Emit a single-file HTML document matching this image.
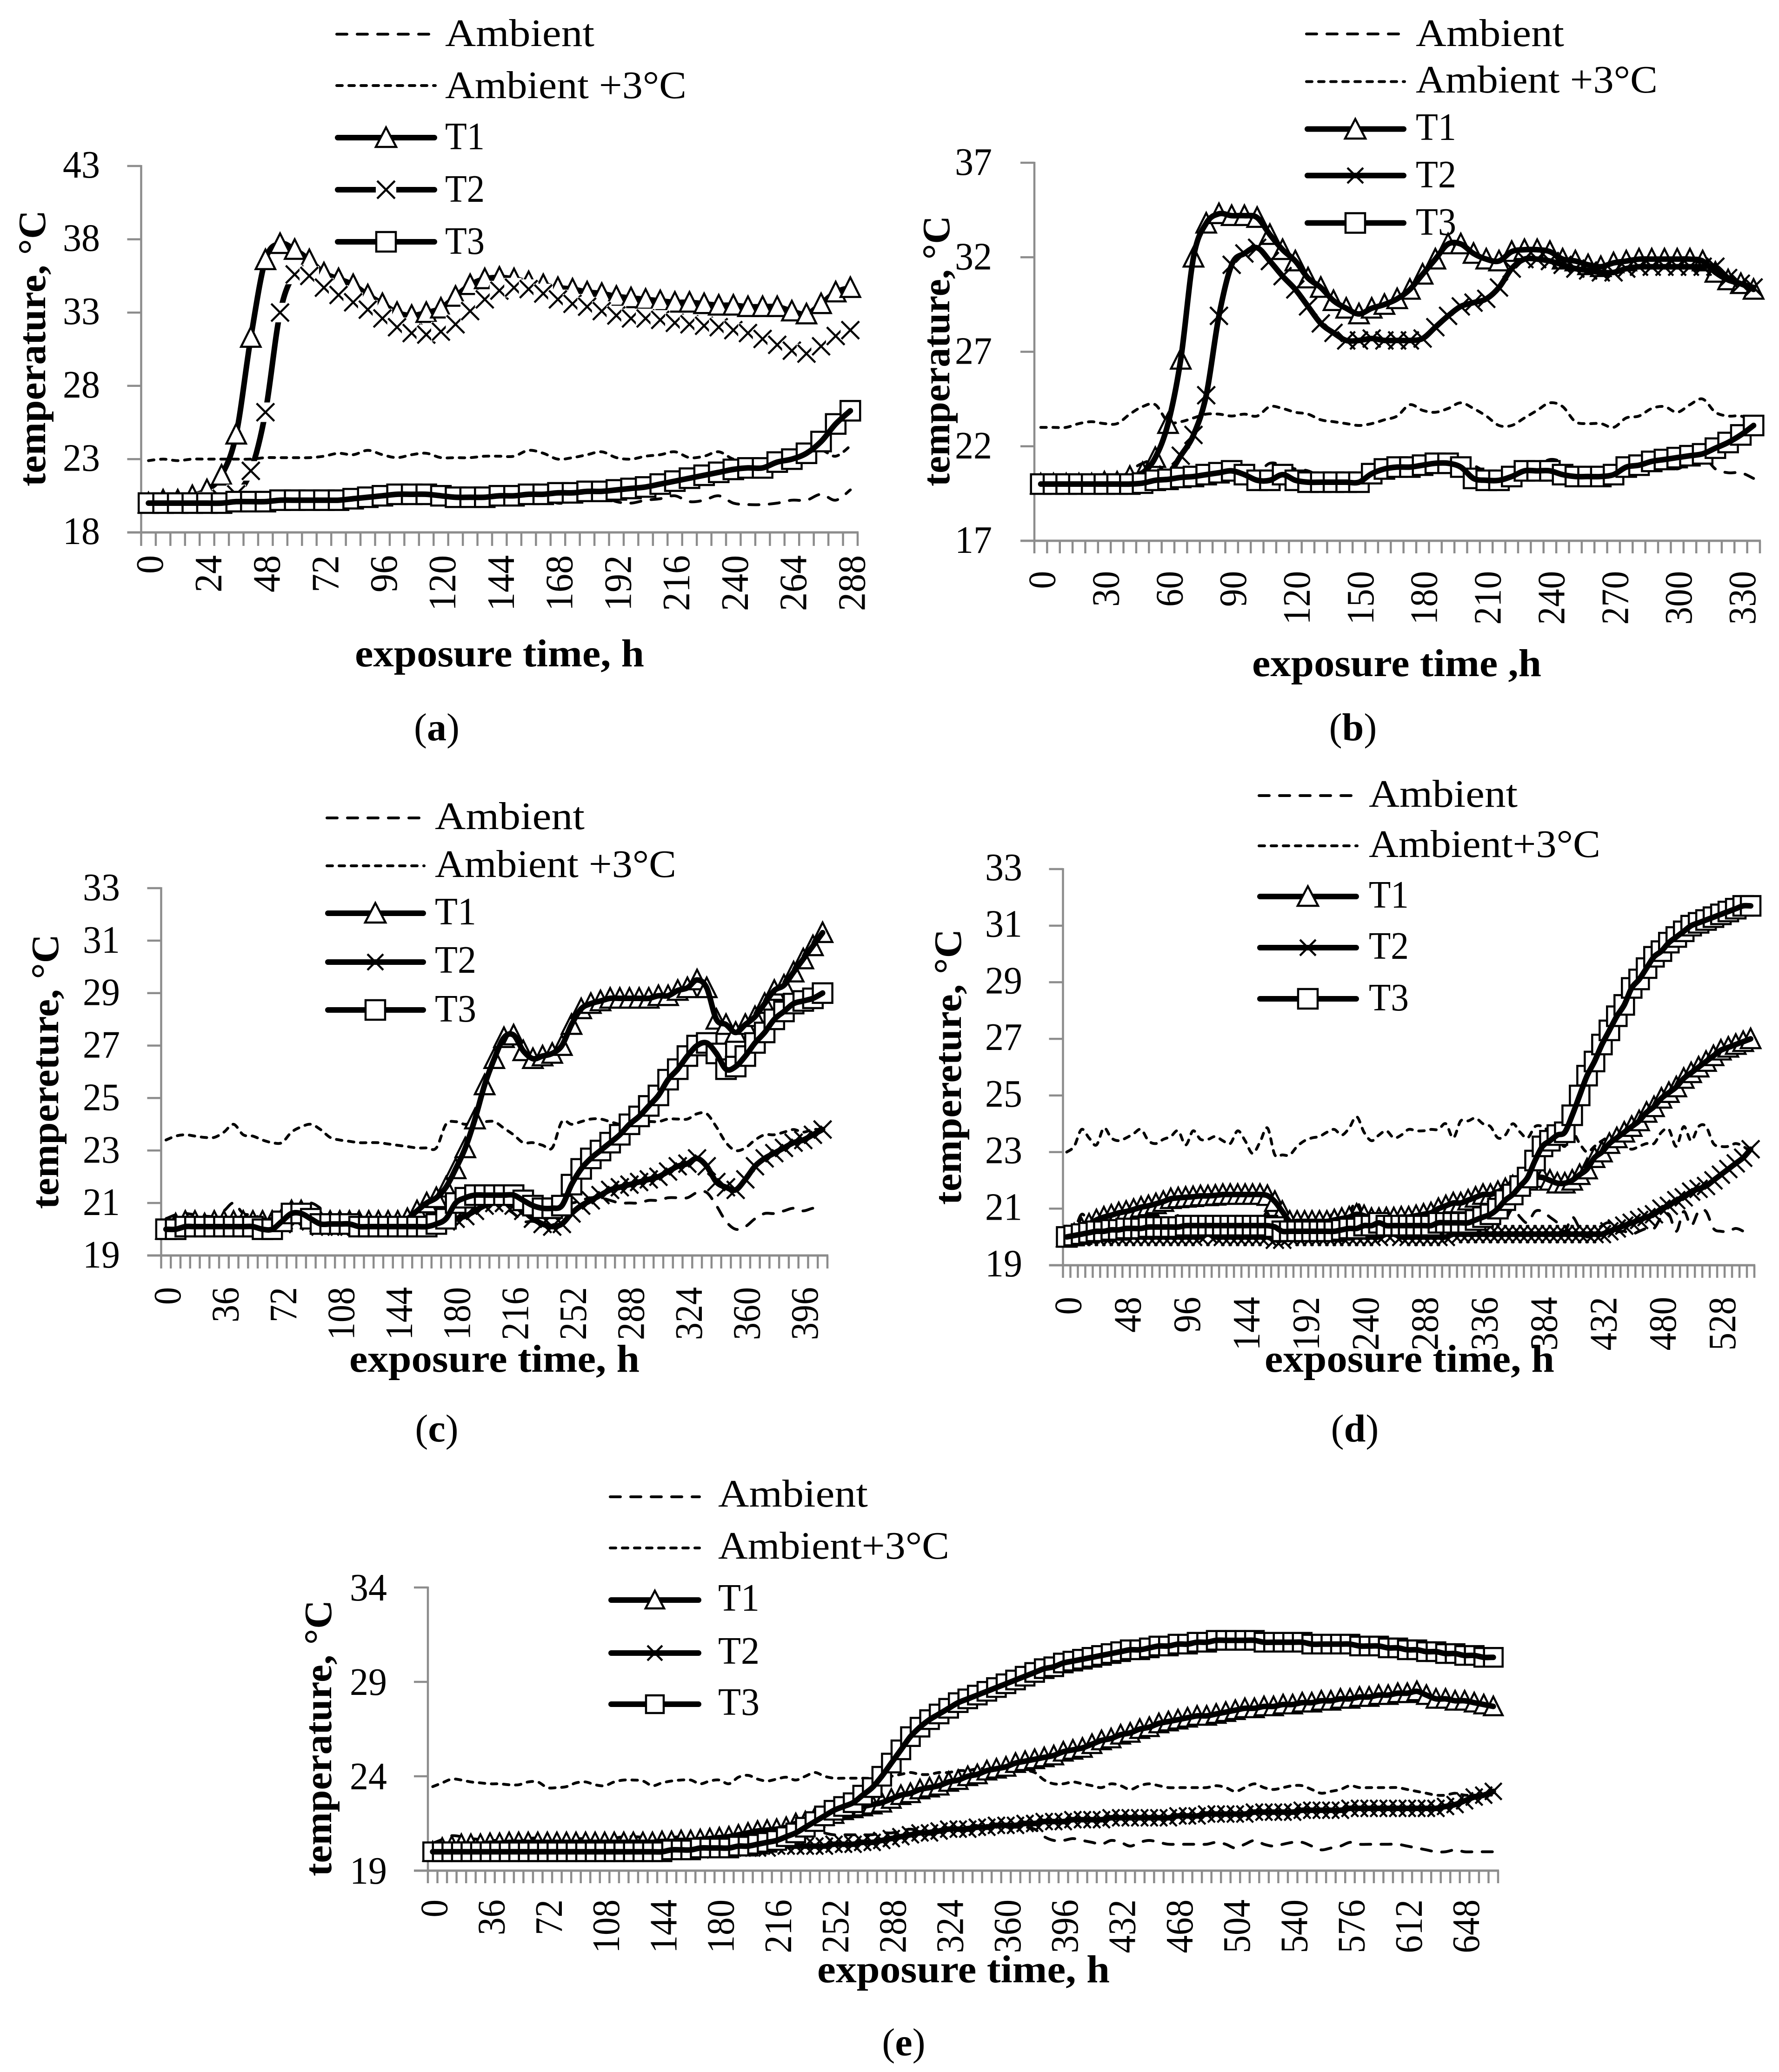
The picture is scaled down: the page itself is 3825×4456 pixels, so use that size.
<!DOCTYPE html>
<html lang="en"><head><meta charset="utf-8"><title>Temperature versus exposure time</title>
<style>
html,body{margin:0;padding:0;background:#fff}
svg{display:block}
text{font-family:"Liberation Serif",serif;fill:#000;font-size:84px}
.b{font-weight:bold}
.amb{stroke:#000;stroke-width:6;stroke-dasharray:22 22;stroke-linecap:round;fill:none}
.a3{stroke:#000;stroke-width:6;stroke-dasharray:12 14;stroke-linecap:round;fill:none}
.t{stroke:#000;stroke-width:12;stroke-linecap:round;fill:none}
.m{stroke:#000;stroke-width:4.5;fill:#fff}
.x{stroke:#000;stroke-width:4.5;fill:none}
</style></head><body>
<svg xmlns="http://www.w3.org/2000/svg" width="3825" height="4456" viewBox="0 0 3825 4456">
<rect width="3825" height="4456" fill="#fff"/>

<g id="panel-a"></g>
<g id="panel-b"></g>
<g id="panel-c"></g>
<g id="panel-d"></g>
<g id="panel-e"></g>

<!-- Panel a labels and legend -->
<g>
<line class="amb" x1="724" x2="936" y1="73.5" y2="73.5"/>
<text x="957" y="99" textLength="321" lengthAdjust="spacingAndGlyphs">Ambient</text>
<line class="a3" x1="724" x2="936" y1="184" y2="184"/>
<text x="957" y="211" textLength="519" lengthAdjust="spacingAndGlyphs">Ambient +3°C</text>
<line class="t" x1="726" x2="934" y1="296" y2="296"/>
<polygon class="m" points="830,274 852,316 808,316"/>
<text x="957" y="321" textLength="85" lengthAdjust="spacingAndGlyphs">T1</text>
<line class="t" x1="726" x2="934" y1="408" y2="408"/>
<rect x="808" y="386" width="44" height="44" fill="#fff"/>
<path class="x" d="M811 389L849 427M849 389L811 427"/>
<text x="957" y="434" textLength="85" lengthAdjust="spacingAndGlyphs">T2</text>
<line class="t" x1="726" x2="934" y1="520" y2="520"/>
<rect class="m" x="809" y="499" width="42" height="42"/>
<text x="957" y="546" textLength="85" lengthAdjust="spacingAndGlyphs">T3</text>
</g>
<text class="b" x="763" y="1433" textLength="622" lengthAdjust="spacingAndGlyphs">exposure time, h</text>
<text class="b" x="97" y="1046" transform="rotate(-90 97 1046)" textLength="594" lengthAdjust="spacingAndGlyphs">temperature, °C</text>
<text x="939" y="1592" text-anchor="middle">(<tspan class="b">a</tspan>)</text>

<!-- Panel b labels and legend -->
<g>
<line class="amb" x1="2809" x2="3020" y1="73" y2="73"/>
<text x="3044" y="99" textLength="319" lengthAdjust="spacingAndGlyphs">Ambient</text>
<line class="a3" x1="2809" x2="3020" y1="175.5" y2="175.5"/>
<text x="3044" y="199" textLength="520" lengthAdjust="spacingAndGlyphs">Ambient +3°C</text>
<line class="t" x1="2811" x2="3018" y1="277.5" y2="277.5"/>
<polygon class="m" points="2914,256 2936,298 2892,298"/>
<text x="3044" y="301" textLength="87" lengthAdjust="spacingAndGlyphs">T1</text>
<line class="t" x1="2811" x2="3018" y1="377.5" y2="377.5"/>
<path class="x" d="M2897 361L2931 394M2931 361L2897 394"/>
<text x="3044" y="403" textLength="87" lengthAdjust="spacingAndGlyphs">T2</text>
<line class="t" x1="2811" x2="3018" y1="479.5" y2="479.5"/>
<rect class="m" x="2893" y="458.5" width="42" height="42"/>
<text x="3044" y="505" textLength="87" lengthAdjust="spacingAndGlyphs">T3</text>
</g>
<text class="b" x="2692" y="1454" textLength="622" lengthAdjust="spacingAndGlyphs">exposure time ,h</text>
<text class="b" x="2041" y="1046" transform="rotate(-90 2041 1046)" textLength="582" lengthAdjust="spacingAndGlyphs">temperature, °C</text>
<text x="2909" y="1592" text-anchor="middle">(<tspan class="b">b</tspan>)</text>

<!-- Panel c labels and legend -->
<g>
<line class="amb" x1="703" x2="912" y1="1759" y2="1759"/>
<text x="935" y="1783" textLength="322" lengthAdjust="spacingAndGlyphs">Ambient</text>
<line class="a3" x1="703" x2="912" y1="1862" y2="1862"/>
<text x="935" y="1886" textLength="519" lengthAdjust="spacingAndGlyphs">Ambient +3°C</text>
<line class="t" x1="705" x2="910" y1="1964" y2="1964"/>
<polygon class="m" points="807,1942 829,1984 785,1984"/>
<text x="935" y="1988" textLength="89" lengthAdjust="spacingAndGlyphs">T1</text>
<line class="t" x1="705" x2="910" y1="2069" y2="2069"/>
<path class="x" d="M790 2052L824 2086M824 2052L790 2086"/>
<text x="935" y="2092" textLength="89" lengthAdjust="spacingAndGlyphs">T2</text>
<line class="t" x1="705" x2="910" y1="2172" y2="2172"/>
<rect class="m" x="786" y="2151" width="42" height="42"/>
<text x="935" y="2197" textLength="89" lengthAdjust="spacingAndGlyphs">T3</text>
</g>
<text class="b" x="751" y="2950" textLength="624" lengthAdjust="spacingAndGlyphs">exposure time, h</text>
<text class="b" x="125" y="2600" transform="rotate(-90 125 2600)" textLength="591" lengthAdjust="spacingAndGlyphs">tempereture, °C</text>
<text x="939" y="3100" text-anchor="middle">(<tspan class="b">c</tspan>)</text>

<!-- Panel d labels and legend -->
<g>
<line class="amb" x1="2707" x2="2918" y1="1711" y2="1711"/>
<text x="2943" y="1735" textLength="320" lengthAdjust="spacingAndGlyphs">Ambient</text>
<line class="a3" x1="2707" x2="2918" y1="1819" y2="1819"/>
<text x="2943" y="1843" textLength="498" lengthAdjust="spacingAndGlyphs">Ambient+3°C</text>
<line class="t" x1="2709" x2="2916" y1="1928" y2="1928"/>
<polygon class="m" points="2812,1906 2834,1948 2790,1948"/>
<text x="2943" y="1952" textLength="86" lengthAdjust="spacingAndGlyphs">T1</text>
<line class="t" x1="2709" x2="2916" y1="2038" y2="2038"/>
<path class="x" d="M2795 2021L2829 2055M2829 2021L2795 2055"/>
<text x="2943" y="2062" textLength="86" lengthAdjust="spacingAndGlyphs">T2</text>
<line class="t" x1="2709" x2="2916" y1="2148" y2="2148"/>
<rect class="m" x="2791" y="2127" width="42" height="42"/>
<text x="2943" y="2173" textLength="86" lengthAdjust="spacingAndGlyphs">T3</text>
</g>
<text class="b" x="2719" y="2950" textLength="623" lengthAdjust="spacingAndGlyphs">exposure time, h</text>
<text class="b" x="2066" y="2591" transform="rotate(-90 2066 2591)" textLength="593" lengthAdjust="spacingAndGlyphs">tempereture, °C</text>
<text x="2913" y="3100" text-anchor="middle">(<tspan class="b">d</tspan>)</text>

<!-- Panel e labels and legend -->
<g>
<line class="amb" x1="1312" x2="1504" y1="3219" y2="3219"/>
<text x="1544" y="3240" textLength="322" lengthAdjust="spacingAndGlyphs">Ambient</text>
<line class="a3" x1="1312" x2="1504" y1="3329" y2="3329"/>
<text x="1544" y="3352" textLength="497" lengthAdjust="spacingAndGlyphs">Ambient+3°C</text>
<line class="t" x1="1314" x2="1502" y1="3441" y2="3441"/>
<polygon class="m" points="1408,3421 1428,3459 1388,3459"/>
<text x="1544" y="3464" textLength="89" lengthAdjust="spacingAndGlyphs">T1</text>
<line class="t" x1="1314" x2="1502" y1="3555" y2="3555"/>
<path class="x" d="M1392 3539L1424 3571M1424 3539L1392 3571"/>
<text x="1544" y="3578" textLength="89" lengthAdjust="spacingAndGlyphs">T2</text>
<line class="t" x1="1314" x2="1502" y1="3665" y2="3665"/>
<rect class="m" x="1389" y="3646" width="38" height="38"/>
<text x="1544" y="3688" textLength="89" lengthAdjust="spacingAndGlyphs">T3</text>
</g>
<text class="b" x="1757" y="4263" textLength="629" lengthAdjust="spacingAndGlyphs">exposure time, h</text>
<text class="b" x="712" y="4035" transform="rotate(-90 712 4035)" textLength="594" lengthAdjust="spacingAndGlyphs">temperature, °C</text>
<text x="1943" y="4420" text-anchor="middle">(<tspan class="b">e</tspan>)</text>
</svg>

<script>
/* Panel (a) — 6 h per category */
const aYTicks=[18,23,28,33,38,43];
const aXTicks=[0,24,48,72,96,120,144,168,192,216,240,264,288];
const aAmbient=[19.9,20,19.9,20,20,20,20,20,20.1,20.1,
20.1,20.1,20.2,20.4,20.3,20.6,20.3,20.1,20.3,20.4,
20.1,20.1,20.1,20.2,20.2,20.2,20.6,20.4,20,20.1,
20.3,20.5,20.1,20,20.2,20.3,20.5,20.1,20.2,20.5,
20,19.9,19.9,20,20.2,20.2,20.6,20.2,20.9];
const aAmbient3=[22.9,23,22.9,23,23,23,23,23,23.1,23.1,
23.1,23.1,23.2,23.4,23.3,23.6,23.3,23.1,23.3,23.4,
23.1,23.1,23.1,23.2,23.2,23.2,23.6,23.4,23,23.1,
23.3,23.5,23.1,23,23.2,23.3,23.5,23.1,23.2,23.5,
23,22.9,22.9,23,23.2,23.2,23.6,23.2,23.9];
const aT1=[20,20.2,20.2,20.5,20.9,21.9,24.7,31.3,36.6,37.7,
37.3,36.6,35.7,35.3,34.9,34.2,33.6,33,32.8,33,
33.3,34.1,34.9,35.3,35.4,35.3,35.1,34.9,34.7,34.6,
34.4,34.3,34.1,34,33.9,33.8,33.7,33.7,33.6,33.5,
33.5,33.4,33.4,33.4,33.1,32.9,33.6,34.4,34.7];
const aT2=[20,20,20,20,20.1,20.3,20.6,22.2,26.2,33,
35.6,35.5,34.7,34.2,33.7,33.2,32.6,32,31.6,31.5,
31.7,32.2,33.1,33.9,34.5,34.7,34.6,34.3,33.9,33.6,
33.4,33.1,32.8,32.6,32.6,32.5,32.3,32.2,32.1,32,
31.8,31.6,31.2,30.8,30.4,30.2,30.7,31.4,31.8];
const aT3=[20,20,20,20,20,20,20.1,20.1,20.1,20.2,
20.2,20.2,20.2,20.2,20.3,20.4,20.5,20.6,20.6,20.6,
20.5,20.4,20.4,20.4,20.5,20.5,20.6,20.6,20.7,20.7,
20.8,20.8,20.9,21,21.1,21.3,21.5,21.7,21.9,22.1,
22.3,22.4,22.4,22.8,23,23.4,24.2,25.4,26.3];

/* Panel (b) */
const bYTicks=[17,22,27,32,37];
const bXTicks=[0,30,60,90,120,150,180,210,240,270,300,330];
const bAmbient=[20,20,20,20.2,20.3,20.2,20.2,20.7,21.1,21.2,
20.3,20.3,20.5,20.7,20.7,20.6,20.7,20.6,21.1,21,
20.8,20.7,20.4,20.3,20.2,20.1,20.2,20.4,20.6,21.2,
20.9,20.8,21,21.3,21,20.6,20.1,20.1,20.5,20.9,
21.3,21.1,20.3,20.2,20.2,20,20.5,20.6,21,21.1,
20.8,21.2,21.5,20.8,20.6,20.6,20.3];
const bAmbient3=[23,23,23,23.2,23.3,23.2,23.2,23.7,24.1,24.2,
23.3,23.3,23.5,23.7,23.7,23.6,23.7,23.6,24.1,24,
23.8,23.7,23.4,23.3,23.2,23.1,23.2,23.4,23.6,24.2,
23.9,23.8,24,24.3,24,23.6,23.1,23.1,23.5,23.9,
24.3,24.1,23.3,23.2,23.2,23,23.5,23.6,24,24.1,
23.8,24.2,24.5,23.8,23.6,23.6,23.3];
const bT1=[20,20,20,20,20,20.1,20.1,20.4,20.6,21.4,
23.2,26.6,32,33.8,34.3,34.2,34.2,34.1,33.2,32.4,
31.8,30.9,30.4,29.7,29.3,29,29.3,29.5,29.8,30.3,
31.1,31.9,32.7,32.7,32.2,31.9,31.8,32.3,32.4,32.4,
32.3,31.9,31.8,31.6,31.5,31.7,31.8,31.9,31.9,31.9,
31.9,31.9,31.8,31.2,30.8,30.6,30.3];
const bT2=[20,20,20,20,20,20,20,20,20,20.2,
20.5,21.5,22.6,24.7,28.9,31.6,32.2,32.5,31.8,31,
30.3,29.4,28.5,28,27.6,27.6,27.7,27.6,27.6,27.6,
27.7,28.3,28.9,29.4,29.6,29.8,30.4,31.4,31.9,31.9,
31.8,31.6,31.4,31.3,31.2,31.2,31.4,31.5,31.5,31.5,
31.5,31.5,31.5,31.5,30.9,30.6,30.4];
const bT3=[20,20,20,20,20,20,20,20,20.05,20.2,
20.25,20.35,20.4,20.5,20.6,20.7,20.5,20.2,20.2,20.5,
20.2,20.1,20.1,20.1,20.1,20.1,20.55,20.8,20.9,20.9,
21,21.1,21.1,20.9,20.3,20.2,20.2,20.4,20.7,20.7,
20.7,20.5,20.4,20.4,20.4,20.5,20.9,21,21.2,21.3,
21.4,21.5,21.6,21.9,22.2,22.6,23.1];

/* Panel (c) */
const cYTicks=[19,21,23,25,27,29,31,33];
const cXTicks=[0,36,72,108,144,180,216,252,288,324,360,396];
const cAmbient=[20.4,20.55,20.6,20.55,20.5,20.5,20.7,21,20.6,20.55,
20.4,20.3,20.3,20.7,20.9,21,20.8,20.5,20.4,20.35,
20.3,20.3,20.3,20.25,20.2,20.15,20.1,20.1,20.1,21,
21.1,21,21.1,21.1,21.1,20.85,20.6,20.3,20.3,20.2,
20.1,21.1,21,21.1,21.2,21.2,21.1,21,21,21,
21.1,21.1,21.2,21.2,21.2,21.4,21.4,20.9,20.3,20,
20.1,20.4,20.6,20.6,20.7,20.8,20.7,20.8,20.8];
const cAmbient3=[23.4,23.55,23.6,23.55,23.5,23.5,23.7,24,23.6,23.55,
23.4,23.3,23.3,23.7,23.9,24,23.8,23.5,23.4,23.35,
23.3,23.3,23.3,23.25,23.2,23.15,23.1,23.1,23.1,24,
24.1,24,24.1,24.1,24.1,23.85,23.6,23.3,23.3,23.2,
23.1,24.1,24,24.1,24.2,24.2,24.1,24,24,24,
24.1,24.1,24.2,24.2,24.2,24.4,24.4,23.9,23.3,23,
23.1,23.4,23.6,23.6,23.7,23.8,23.7,23.8,23.8];
const cT1=[20,20.2,20.3,20.3,20.2,20.3,20.3,20.3,20.3,20.3,
20.3,20.3,20.4,20.7,20.7,20.4,20.3,20.3,20.3,20.3,
20.3,20.3,20.3,20.3,20.3,20.4,20.7,21,21.2,21.6,
22.3,23.1,24.2,25.5,26.5,27.3,27.4,26.8,26.5,26.6,
26.7,27,27.8,28.4,28.6,28.7,28.8,28.8,28.8,28.8,
28.8,28.9,28.9,29.1,29.2,29.5,29.2,28,27.8,27.5,
27.8,28.1,28.6,29.1,29.3,29.8,30.3,30.8,31.3];
const cT2=[20,20,20.1,20.1,20.1,20.1,20.1,20.1,20.1,20.1,
20.1,20.1,20.2,20.5,20.5,20.3,20.1,20.1,20.1,20.1,
20.1,20.1,20.1,20.1,20.1,20.1,20.1,20.1,20.2,20.3,
20.4,20.5,20.7,20.9,21,21,20.9,20.7,20.4,20.2,
20.1,20.2,20.6,20.9,21.1,21.3,21.5,21.6,21.7,21.8,
21.9,22,22.2,22.4,22.5,22.7,22.4,21.8,21.6,21.5,
21.9,22.4,22.7,22.9,23.1,23.3,23.4,23.6,23.8];
const cT3=[20,20,20.1,20.1,20.1,20.1,20.1,20.1,20.1,20.1,
20,20,20.3,20.6,20.6,20.4,20.2,20.2,20.2,20.2,
20.1,20.1,20.1,20.1,20.1,20.1,20.1,20.1,20.2,20.4,
21,21.2,21.3,21.3,21.3,21.3,21.3,21.1,20.9,20.8,
20.8,20.9,21.7,22.3,22.7,23,23.3,23.6,24,24.3,
24.7,25.1,25.7,26.1,26.6,27,27.1,26.7,26.1,26.2,
26.6,27.1,27.5,28,28.3,28.6,28.7,28.8,29];

/* Panel (d) */
const dYTicks=[19,21,23,25,27,29,31,33];
const dXTicks=[0,48,96,144,192,240,288,336,384,432,480,528];
const dAmbient=[20,20.2,20.8,20.5,20.25,20.85,20.5,20.4,20.5,20.65,
20.8,20.4,20.3,20.45,20.55,20.75,20.25,20.75,20.45,20.45,
20.55,20.4,20.3,20.75,20.4,19.95,20.35,20.85,19.9,19.9,
19.9,20.2,20.4,20.5,20.55,20.7,20.8,20.6,20.85,21.25,
20.7,20.4,20.6,20.75,20.5,20.6,20.8,20.75,20.75,20.8,
20.8,21,20.5,21.1,21.1,21.2,21,20.9,20.5,20.6,
21,20.7,20.5,20.9,20.9,20.7,20.5,20.2,20.7,20.3,
20,20.2,20.4,20.5,20.2,20.2,20.1,20.2,20.3,20.3,
20.7,20.8,20.2,20.9,20.4,20.9,20.9,20.3,20.2,20.2,
20.3,20.2,20];
const dAmbient3=[23,23.2,23.8,23.5,23.25,23.85,23.5,23.4,23.5,23.65,
23.8,23.4,23.3,23.45,23.55,23.75,23.25,23.75,23.45,23.45,
23.55,23.4,23.3,23.75,23.4,22.95,23.35,23.85,22.9,22.9,
22.9,23.2,23.4,23.5,23.55,23.7,23.8,23.6,23.85,24.25,
23.7,23.4,23.6,23.75,23.5,23.6,23.8,23.75,23.75,23.8,
23.8,24,23.5,24.1,24.1,24.2,24,23.9,23.5,23.6,
24,23.7,23.5,23.9,23.9,23.7,23.5,23.2,23.7,23.3,
23,23.2,23.4,23.5,23.2,23.2,23.1,23.2,23.3,23.3,
23.7,23.8,23.2,23.9,23.4,23.9,23.9,23.3,23.2,23.2,
23.3,23.2,23];
const dT1=[20,20.1,20.3,20.45,20.6,20.7,20.77,20.85,20.9,20.97,
21.05,21.1,21.17,21.25,21.35,21.38,21.4,21.42,21.45,21.45,
21.47,21.5,21.5,21.5,21.5,21.5,21.5,21.46,21.25,20.9,
20.55,20.55,20.55,20.55,20.55,20.55,20.6,20.65,20.7,20.8,
20.75,20.65,20.65,20.67,20.67,20.7,20.7,20.75,20.8,20.85,
21,21.1,21.2,21.2,21.3,21.4,21.5,21.5,21.6,21.7,
21.8,21.9,22,22.1,22.1,22,21.9,21.9,22,22.2,
22.4,22.8,23,23.3,23.5,23.7,23.9,24.1,24.4,24.6,
24.9,25.1,25.3,25.6,25.8,26,26.2,26.4,26.6,26.7,
26.8,26.9,27];
const dT2=[20,20,20,20,20,20,20,20,20,20,
20,20,20,20,20,20,20,20,20,20.1,
20,20,20,20,20,20,20,20,19.9,19.9,
20,20,20,20,20,20,20,20,20,20,
20,20,20,20.1,20.1,20,20,20,20,20,
20,20,20.1,20.1,20.1,20.1,20.1,20.1,20.1,20.1,
20.1,20.1,20.1,20.1,20.1,20.1,20.1,20.1,20.1,20.1,
20.1,20.1,20.1,20.2,20.3,20.4,20.5,20.6,20.7,20.8,
21,21.1,21.3,21.4,21.6,21.7,21.8,22,22.2,22.4,
22.6,22.8,23.1];
const dT3=[20,20.05,20.1,20.15,20.2,20.2,20.25,20.25,20.3,20.3,
20.3,20.35,20.35,20.35,20.35,20.35,20.4,20.4,20.4,20.4,
20.4,20.4,20.4,20.4,20.4,20.4,20.4,20.4,20.35,20.2,
20.2,20.2,20.2,20.2,20.2,20.2,20.2,20.25,20.3,20.3,
20.4,20.4,20.5,20.4,20.4,20.4,20.4,20.4,20.4,20.4,
20.5,20.5,20.5,20.5,20.5,20.6,20.7,20.8,21,21.3,
21.5,21.8,22.1,22.7,23.2,23.4,23.6,23.7,24.3,25,
25.7,26.2,26.8,27.3,27.8,28.2,28.8,29.1,29.5,29.9,
30.1,30.4,30.6,30.8,31,31.1,31.2,31.3,31.4,31.5,
31.6,31.7,31.7];

/* Panel (e) */
const eYTicks=[19,24,29,34];
const eXTicks=[0,36,72,108,144,180,216,252,288,324,360,396,432,468,504,540,576,612,648];
const eAmbient=[20.45,20.65,20.85,20.8,20.7,20.65,20.6,20.6,20.55,20.55,
20.7,20.7,20.4,20.4,20.45,20.65,20.7,20.55,20.5,20.7,
20.8,20.8,20.75,20.5,20.65,20.75,20.8,20.8,20.6,20.75,
20.8,20.6,20.95,21.05,20.85,20.75,20.85,20.95,20.8,21,
21.2,21,20.9,20.9,20.9,20.9,20.9,21,21,21.1,
21.2,21.1,21.1,21.2,21.2,21.3,21.3,21.4,21.4,21.3,
21.3,21.3,21.3,21.2,20.8,20.6,20.6,20.7,20.6,20.5,
20.4,20.6,20.5,20.3,20.5,20.6,20.5,20.4,20.4,20.4,
20.4,20.4,20.5,20.4,20.2,20.4,20.6,20.4,20.3,20.4,
20.5,20.5,20.3,20.1,20.2,20.3,20.5,20.4,20.4,20.4,
20.4,20.4,20.3,20.2,20.1,20,20,20.1,20,20,20,20];
const eAmbient3=[23.45,23.65,23.85,23.8,23.7,23.65,23.6,23.6,23.55,23.55,
23.7,23.7,23.4,23.4,23.45,23.65,23.7,23.55,23.5,23.7,
23.8,23.8,23.75,23.5,23.65,23.75,23.8,23.8,23.6,23.75,
23.8,23.6,23.95,24.05,23.85,23.75,23.85,23.95,23.8,24,
24.2,24,23.9,23.9,23.9,23.9,23.9,24,24,24.1,
24.2,24.1,24.1,24.2,24.2,24.3,24.3,24.4,24.4,24.3,
24.3,24.3,24.3,24.2,23.8,23.6,23.6,23.7,23.6,23.5,
23.4,23.6,23.5,23.3,23.5,23.6,23.5,23.4,23.4,23.4,
23.4,23.4,23.5,23.4,23.2,23.4,23.6,23.4,23.3,23.4,
23.5,23.5,23.3,23.1,23.2,23.3,23.5,23.4,23.4,23.4,
23.4,23.4,23.3,23.2,23.1,23,23,23.1,23,23,23,23];
const eT1=[20,20.2,20.3,20.4,20.4,20.4,20.45,20.45,20.5,20.5,
20.5,20.5,20.5,20.5,20.5,20.5,20.5,20.5,20.5,20.5,
20.5,20.5,20.5,20.5,20.55,20.55,20.6,20.6,20.65,20.7,
20.75,20.8,20.9,21,21.1,21.15,21.2,21.3,21.5,21.6,
21.8,21.9,22,22.2,22.3,22.4,22.5,22.6,22.8,23,
23.1,23.3,23.4,23.5,23.7,23.8,24,24.1,24.3,24.4,
24.5,24.7,24.8,24.9,25,25.1,25.3,25.4,25.5,25.7,
25.9,26,26.2,26.3,26.5,26.6,26.8,26.9,27,27.1,
27.2,27.2,27.3,27.4,27.5,27.6,27.6,27.7,27.7,27.8,
27.8,27.9,27.9,28,28,28.1,28.1,28.2,28.2,28.3,
28.3,28.4,28.4,28.5,28.3,28.1,28.1,28,28,27.9,27.8,27.7];
const eT2=[20,20.1,20.1,20.1,20.1,20.1,20.1,20.1,20.1,20.1,
20.1,20.1,20.1,20.1,20.1,20.1,20.1,20.1,20.1,20.1,
20.1,20.1,20.1,20.1,20.1,20.1,20.1,20.1,20.1,20.2,
20.2,20.2,20.2,20.2,20.2,20.2,20.3,20.3,20.3,20.3,
20.3,20.3,20.4,20.4,20.4,20.5,20.5,20.6,20.7,20.8,
20.9,21,21,21.1,21.2,21.2,21.2,21.3,21.3,21.4,
21.4,21.4,21.5,21.5,21.6,21.6,21.6,21.7,21.7,21.7,
21.7,21.8,21.8,21.8,21.8,21.8,21.8,21.8,21.9,21.9,
21.9,22,22,22,22,22,22.1,22.1,22.1,22.1,
22.1,22.2,22.2,22.2,22.2,22.2,22.3,22.3,22.3,22.3,
22.3,22.3,22.3,22.3,22.3,22.3,22.4,22.5,22.7,22.9,23,23.2];
const eT3=[20,20,20,20,20,20,20,20,20,20,
20,20,20,20,20,20,20,20,20,20,
20,20,20,20,20,20.1,20.1,20.1,20.2,20.2,
20.2,20.2,20.3,20.3,20.4,20.5,20.6,20.8,21,21.3,
21.6,21.9,22.2,22.4,22.6,23,23.4,24,24.7,25.4,
26.1,26.6,27,27.3,27.6,27.9,28.1,28.3,28.5,28.7,
28.9,29.1,29.3,29.5,29.7,29.8,30,30.1,30.2,30.3,
30.4,30.5,30.6,30.7,30.7,30.8,30.9,30.9,31,31,
31.1,31.1,31.2,31.2,31.2,31.2,31.2,31.1,31.1,31.1,
31.1,31.1,31,31,31,31,31,30.9,30.9,30.9,
30.8,30.8,30.7,30.7,30.6,30.6,30.5,30.5,30.4,30.4,30.3,30.3];

const NS='http://www.w3.org/2000/svg';
function mk(parent,tag,attrs){
  const el=document.createElementNS(NS,tag);
  for(const k in attrs) el.setAttribute(k,attrs[k]);
  parent.appendChild(el);
  return el;
}
function smoothPath(pts){
  let d='M'+pts[0][0].toFixed(1)+' '+pts[0][1].toFixed(1);
  for(let i=0;i<pts.length-1;i++){
    const p0=pts[Math.max(i-1,0)],p1=pts[i],p2=pts[i+1],p3=pts[Math.min(i+2,pts.length-1)];
    const c1x=p1[0]+(p2[0]-p0[0])/6,c1y=p1[1]+(p2[1]-p0[1])/6;
    const c2x=p2[0]-(p3[0]-p1[0])/6,c2y=p2[1]-(p3[1]-p1[1])/6;
    d+='C'+c1x.toFixed(1)+' '+c1y.toFixed(1)+' '+c2x.toFixed(1)+' '+c2y.toFixed(1)+' '+p2[0].toFixed(1)+' '+p2[1].toFixed(1);
  }
  return d;
}
const AXIS='#8c8c8c';
function drawPanel(cfg){
  const g=document.getElementById(cfg.id);
  const n=cfg.t1.length;
  const catW=(cfg.x1-cfg.x0)/n;
  const xCat=i=>cfg.x0+(i+0.5)*catW;
  const xEdge=i=>cfg.x0+i*catW;
  const y=v=>cfg.yBot-(v-cfg.yMin)/(cfg.yMax-cfg.yMin)*(cfg.yBot-cfg.yTop);

  /* axes */
  const yAxis=mk(g,'line',{x1:cfg.x0,x2:cfg.x0,y1:cfg.yTop-2,y2:cfg.yBot,stroke:AXIS,'stroke-width':4.5});
  
  
  const xAxis=mk(g,'line',{x1:cfg.x0-30,x2:cfg.x1+2,y1:cfg.yBot,y2:cfg.yBot,stroke:AXIS,'stroke-width':5});
  
  
  for(let i=0;i<=n;i++){
    const t=mk(g,'line',{x1:xEdge(i),x2:xEdge(i),y1:cfg.yBot,y2:cfg.yBot+cfg.tickLen,stroke:AXIS,'stroke-width':4.5});
    
    
  }
  cfg.yTicks.forEach(v=>{
    const t=mk(g,'line',{x1:cfg.x0-30,x2:cfg.x0,y1:y(v),y2:y(v),stroke:AXIS,'stroke-width':4.5});
    
    
    const l=mk(g,'text',{x:cfg.yLabelX,y:y(v)+cfg.yLabelDy,'text-anchor':'end',textLength:String(v).length*40,lengthAdjust:'spacingAndGlyphs'});
    l.textContent=v;
    
    
  });
  cfg.xTicks.forEach(v=>{
    const cx=xCat(v/cfg.step)+cfg.xLabelDx, yt=cfg.xLabelY;
    const l=mk(g,'text',{x:cx,y:yt,'text-anchor':'end',transform:'rotate(-90 '+cx+' '+yt+')',textLength:String(v).length*cfg.xDigit,lengthAdjust:'spacingAndGlyphs'});
    l.textContent=v;
    
    
  });

  const pts=arr=>arr.map((v,i)=>[xCat(i),y(v)]);

  /* ambient series */
  const amb=mk(g,'path',{class:'amb',d:smoothPath(pts(cfg.ambient))});
  
  
  const a3=mk(g,'path',{class:'a3',d:smoothPath(pts(cfg.ambient3))});
  
  

  const r=cfg.markerR;
  const linePath=(arr,name)=>{
    const p=mk(g,'path',{class:'t',d:smoothPath(pts(arr))});
    
    
  };

  /* T1 */
  if(cfg.markersOverT1) linePath(cfg.t1,'series-t1-line');
  pts(cfg.t1).forEach(p=>{
    const m=mk(g,'polygon',{class:'m',points:p[0]+','+(p[1]-r-1)+' '+(p[0]+r)+','+(p[1]+r-1)+' '+(p[0]-r)+','+(p[1]+r-1)});
    
    
  });
  if(!cfg.markersOverT1) linePath(cfg.t1,'series-t1-line');

  /* T2 */
  linePath(cfg.t2,'series-t2-line');
  pts(cfg.t2).forEach(p=>{
    if(cfg.xBacking){
      const b=mk(g,'rect',{x:p[0]-r,y:p[1]-r,width:2*r,height:2*r,fill:'#fff'});
      
      
    }
    const q=r-2;
    const m=mk(g,'path',{class:'x',d:'M'+(p[0]-q)+' '+(p[1]-q)+'L'+(p[0]+q)+' '+(p[1]+q)+'M'+(p[0]+q)+' '+(p[1]-q)+'L'+(p[0]-q)+' '+(p[1]+q)});
    
    
  });

  /* T3 */
  pts(cfg.t3).forEach(p=>{
    const m=mk(g,'rect',{class:'m',x:p[0]-r,y:p[1]-r,width:2*r,height:2*r});
    
    
  });
  linePath(cfg.t3,'series-t3-line');
}

drawPanel({id:'panel-a',x0:303.5,x1:1844,yTop:357,yBot:1145,yMin:18,yMax:43,tickLen:29,step:6,yLabelX:215,yLabelDy:25,xLabelY:1194,xLabelDx:31,xDigit:40,markerR:21,markersOverT1:true,xBacking:true,
  yTicks:aYTicks,xTicks:aXTicks,ambient:aAmbient,ambient3:aAmbient3,t1:aT1,t2:aT2,t3:aT3});
drawPanel({id:'panel-b',x0:2224,x1:3784,yTop:350,yBot:1163,yMin:17,yMax:37,tickLen:27,step:6,yLabelX:2133,yLabelDy:26,xLabelY:1228,xLabelDx:31,xDigit:38.5,markerR:21,markersOverT1:false,xBacking:false,
  yTicks:bYTicks,xTicks:bXTicks,ambient:bAmbient,ambient3:bAmbient3,t1:bT1,t2:bT2,t3:bT3});
drawPanel({id:'panel-c',x0:346.5,x1:1779,yTop:1910,yBot:2700,yMin:19,yMax:33,tickLen:28,step:6,yLabelX:258,yLabelDy:26,xLabelY:2768,xLabelDx:31,xDigit:38,markerR:21,markersOverT1:false,xBacking:false,
  yTicks:cYTicks,xTicks:cXTicks,ambient:cAmbient,ambient3:cAmbient3,t1:cT1,t2:cT2,t3:cT3});
drawPanel({id:'panel-d',x0:2285.5,x1:3772,yTop:1869,yBot:2721,yMin:19,yMax:33,tickLen:27,step:6,yLabelX:2198,yLabelDy:24,xLabelY:2789,xLabelDx:31,xDigit:38.5,markerR:21,markersOverT1:false,xBacking:false,
  yTicks:dYTicks,xTicks:dXTicks,ambient:dAmbient,ambient3:dAmbient3,t1:dT1,t2:dT2,t3:dT3});
drawPanel({id:'panel-e',x0:920,x1:3221,yTop:3414,yBot:4023,yMin:19,yMax:34,tickLen:27,step:6,yLabelX:832,yLabelDy:28,xLabelY:4085,xLabelDx:31,xDigit:38.5,markerR:20,markersOverT1:false,xBacking:false,
  yTicks:eYTicks,xTicks:eXTicks,ambient:eAmbient,ambient3:eAmbient3,t1:eT1,t2:eT2,t3:eT3});
</script>
</body></html>
